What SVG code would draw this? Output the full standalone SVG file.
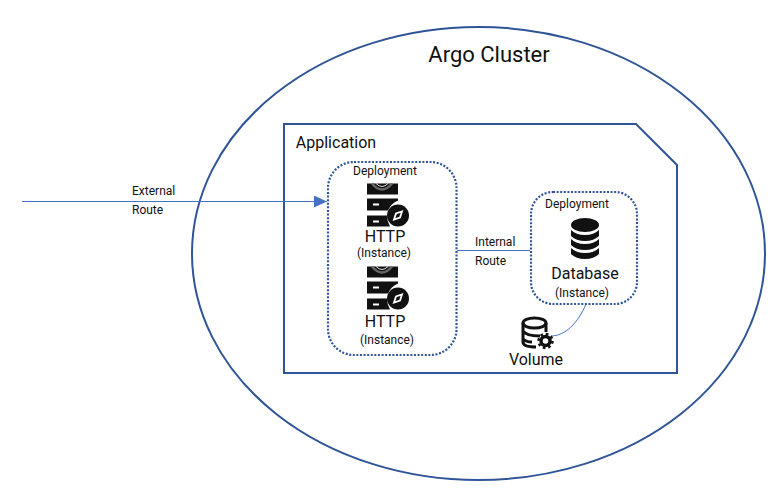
<svg xmlns="http://www.w3.org/2000/svg" width="781" height="504" viewBox="0 0 781 504">
<style>
text{font-family:Roboto,"Liberation Sans",sans-serif;fill:#111;text-anchor:middle}
.s{font-size:12px}.m{font-size:16px}.l{font-size:22px}
.border{fill:none;stroke:#2f5597;stroke-width:2}
.dep{fill:none;stroke:#2f5597;stroke-width:2.200;stroke-dasharray:2 1.600}
.conn{fill:none;stroke:#4472c4;stroke-width:1}
.lbl{text-anchor:start}
</style>
<defs>
<marker id="arrow" markerUnits="userSpaceOnUse" markerWidth="13" markerHeight="12" refX="13" refY="6" orient="auto"><path d="M0 0L13 6L0 12Z" fill="#4472c4"/></marker>
<g id="server">
<path d="M0 0H31V11H0Z" fill="#111"/>
<path d="M5 0Q15 12 25 0" fill="none" stroke="#666" stroke-width="2.500"/>
<path d="M9 0Q15 6 21 0" fill="none" stroke="#ddd" stroke-width="1"/>
<path d="M0 15H31V17Q24 20 21 27H0Z" fill="#111"/>
<rect x="6" y="20" width="6" height="2" fill="#fff"/>
<path d="M0 32H20Q20 38 23 43H0Z" fill="#111"/>
<rect x="6" y="37" width="6" height="2" fill="#fff"/>
<circle cx="31" cy="32" r="11" fill="#111"/>
<path d="M27 36L29 30L35 28L33 34Z" fill="none" stroke="#fff" stroke-width="1.800"/>
</g>
</defs>
<g id="cluster"><ellipse class="border" cx="478.500" cy="253.500" rx="286.500" ry="226.500"/><text class="l" x="489" y="62">Argo Cluster</text></g>
<g id="application"><path class="border" d="M284 124H636L677 165V373H284Z"/><text class="m" x="336" y="148">Application</text></g>
<g id="connectors">
<path class="conn" d="M22 201.500H327" marker-end="url(#arrow)"/>
<path class="conn" d="M457 250.500H530"/>
<path class="conn" d="M586 304C578 323 565 336 551 336"/>
</g>
<g id="external-route"><text class="s lbl" x="132" y="195">External</text><text class="s lbl" x="132" y="214">Route</text></g>
<g id="internal-route"><text class="s lbl" x="475" y="246">Internal</text><text class="s lbl" x="475" y="265">Route</text></g>
<g id="http-deployment">
<rect class="dep" x="328" y="162" width="128.500" height="193" rx="26"/>
<text class="s" x="385" y="175">Deployment</text>
<use href="#server" x="367" y="183.500"/>
<text class="m" x="385" y="242">HTTP</text>
<text class="s" x="384" y="257">(Instance)</text>
<use href="#server" x="367" y="266.500"/>
<text class="m" x="385" y="327">HTTP</text>
<text class="s" x="387" y="344">(Instance)</text>
</g>
<g id="database-deployment">
<rect class="dep" x="531" y="192" width="106" height="112" rx="22"/>
<text class="s" x="577" y="208">Deployment</text>
<g fill="#111">
<ellipse cx="585" cy="225" rx="14" ry="7"/>
<path d="M571 230Q576 235 585 235Q594 235 599 230V236Q594 241 585 241Q576 241 571 236Z"/>
<path d="M571 239Q576 244 585 244Q594 244 599 239V245Q594 250 585 250Q576 250 571 245Z"/>
<path d="M571 248Q576 253 585 253Q594 253 599 248V254Q594 259 585 259Q576 259 571 254Z"/>
</g>
<text class="m" x="585" y="279">Database</text>
<text class="s" x="582" y="297">(Instance)</text>
</g>
<g id="volume">
<g fill="none" stroke="#111" stroke-width="3">
<ellipse cx="534.500" cy="323" rx="11.500" ry="5"/>
<path d="M523 323V342Q523 347 536 347M523 331Q526 336 540 336M546 323V332M523 339Q526 342 532 342"/>
</g>
<circle cx="545.500" cy="341" r="4.500" fill="none" stroke="#111" stroke-width="3.500"/>
<circle cx="545.500" cy="341" r="7" fill="none" stroke="#111" stroke-width="2.500" stroke-dasharray="2.700 2.800"/>
<text class="m" x="536" y="365">Volume</text>
</g>
</svg>
